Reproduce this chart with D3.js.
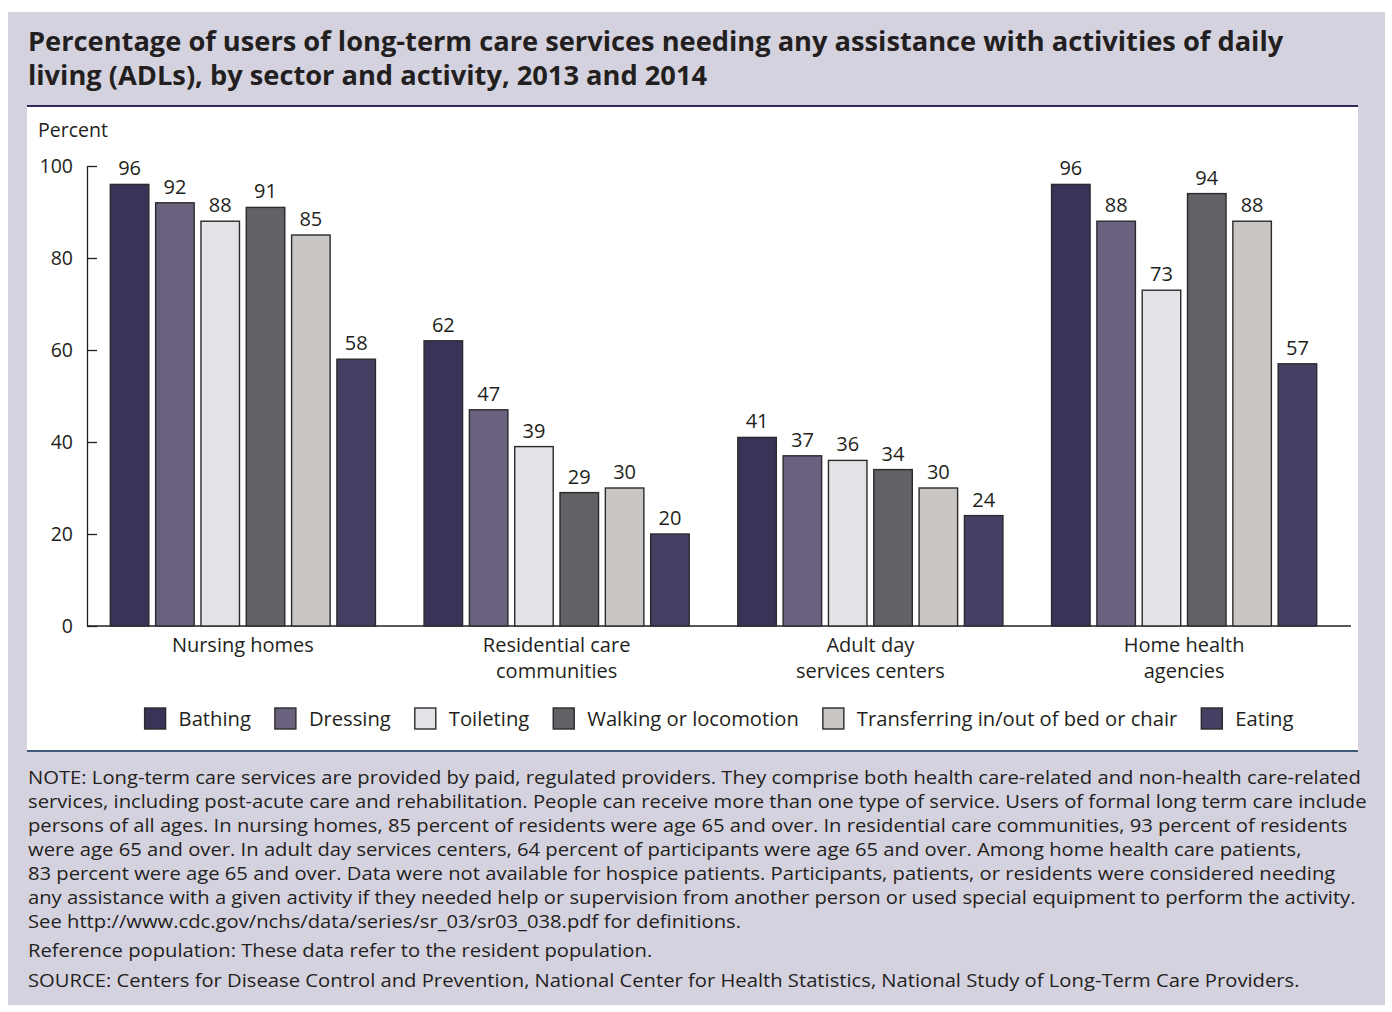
<!DOCTYPE html>
<html><head><meta charset="utf-8">
<script src="https://cdn.jsdelivr.net/npm/d3@7"></script>
<style>
html,body{margin:0;padding:0;background:#fff;}
svg text{font-family:"Open Sans","Noto Sans",sans-serif;fill:#231f20;}
</style></head>
<body>
<svg id="chart" width="1392" height="1012"></svg>
<script>
const titleLines = [
  "Percentage of users of long-term care services needing any assistance with activities of daily",
  "living (ADLs), by sector and activity, 2013 and 2014"
];
const sectors = [["Nursing homes"], ["Residential care", "communities"], ["Adult day", "services centers"], ["Home health", "agencies"]];
const sectorKeys = ["Nursing homes", "Residential care communities", "Adult day services centers", "Home health agencies"];
const activities = ["Bathing", "Dressing", "Toileting", "Walking or locomotion", "Transferring in/out of bed or chair", "Eating"];
const colors = ["#383357", "#6a617f", "#e2e3e7", "#616266", "#c9c6c3", "#463f63"];
const bathing      = [96, 62, 41, 96];
const dressing     = [92, 47, 37, 88];
const toileting    = [88, 39, 36, 73];
const walking      = [91, 29, 34, 94];
const transferring = [85, 30, 30, 88];
const eating       = [58, 20, 24, 57];
const yTicks = [0, 20, 40, 60, 80, 100];
const yLabel = "Percent";
const noteLines = [
  "NOTE: Long-term care services are provided by paid, regulated providers. They comprise both health care-related and non-health care-related",
  "services, including post-acute care and rehabilitation. People can receive more than one type of service. Users of formal long term care include",
  "persons of all ages. In nursing homes, 85 percent of residents were age 65 and over. In residential care communities, 93 percent of residents",
  "were age 65 and over. In adult day services centers, 64 percent of participants were age 65 and over. Among home health care patients,",
  "83 percent were age 65 and over. Data were not available for hospice patients. Participants, patients, or residents were considered needing",
  "any assistance with a given activity if they needed help or supervision from another person or used special equipment to perform the activity.",
  "See http://www.cdc.gov/nchs/data/series/sr_03/sr03_038.pdf for definitions."
];
const refLine = "Reference population: These data refer to the resident population.";
const sourceLine = "SOURCE: Centers for Disease Control and Prevention, National Center for Health Statistics, National Study of Long-Term Care Providers.";

const seriesValues = [bathing, dressing, toileting, walking, transferring, eating];
const data = sectorKeys.map((s, i) => ({
  sector: s, idx: i,
  values: activities.map((a, j) => ({activity: a, value: seriesValues[j][i], color: colors[j]}))
}));

const svg = d3.select("#chart");

// backgrounds
svg.append("rect").attr("x", 8).attr("y", 12).attr("width", 1377).attr("height", 993).attr("fill", "#d5d2df");
svg.append("rect").attr("x", 27).attr("y", 106).attr("width", 1331).attr("height", 645).attr("fill", "#ffffff");
svg.append("line").attr("x1", 27).attr("x2", 1358).attr("y1", 106).attr("y2", 106).attr("stroke", "#2e2a5a").attr("stroke-width", 2);
svg.append("line").attr("x1", 27).attr("x2", 1358).attr("y1", 751).attr("y2", 751).attr("stroke", "#3d5878").attr("stroke-width", 2);

// title
const title = svg.append("g").attr("transform", "translate(28,0)");
title.selectAll("text").data(titleLines).join("text")
  .attr("x", 0).attr("y", (d, i) => 51 + i * 34)
  .attr("font-size", 27).attr("font-weight", 700).text(d => d);
{
  const w = title.select("text").node().getComputedTextLength();
  const k = 1256 / w;
  title.attr("transform", `translate(28,0) scale(${k},1)`);
}

// scales
const y = d3.scaleLinear().domain([0, 100]).range([626, 166]);
const x0 = d3.scaleBand().domain(sectorKeys).range([86, 1341]).paddingInner(0.155).paddingOuter(0.0775);
const x1 = d3.scaleBand().domain(activities).range([0, x0.bandwidth()]).paddingInner(0.15).paddingOuter(0);

// y axis
const yAxis = d3.axisLeft(y).tickValues(yTicks).tickSize(-10).tickSizeOuter(0).tickPadding(14);
const gy = svg.append("g").attr("transform", "translate(87,0)").call(yAxis);
gy.select(".domain").attr("stroke", "#231f20").attr("stroke-width", 1.3);
gy.selectAll(".tick line").attr("stroke", "#231f20").attr("stroke-width", 1.3);
gy.selectAll(".tick text").attr("font-size", 19.5).attr("font-family", null).attr("fill", "#231f20");

svg.append("text").attr("x", 38).attr("y", 137).attr("font-size", 19.5).text(yLabel);

// x axis line
const gx = svg.append("g").attr("transform", "translate(0,626)")
  .call(d3.axisBottom(x0).tickSize(0).tickFormat(""));
gx.select(".domain").attr("d", "M87,0H1351").attr("stroke", "#231f20").attr("stroke-width", 1.3);

// bars
const groups = svg.append("g").selectAll("g").data(data).join("g")
  .attr("transform", d => `translate(${x0(d.sector)},0)`);
groups.selectAll("rect").data(d => d.values).join("rect")
  .attr("x", d => x1(d.activity)).attr("width", x1.bandwidth())
  .attr("y", d => y(d.value)).attr("height", d => y(0) - y(d.value))
  .attr("fill", d => d.color).attr("stroke", "#2b2b2e").attr("stroke-width", 1.4);
groups.selectAll("text.val").data(d => d.values).join("text").attr("class", "val")
  .attr("x", d => x1(d.activity) + x1.bandwidth() / 2).attr("y", d => y(d.value) - 9)
  .attr("text-anchor", "middle").attr("font-size", 20).text(d => d.value);

// category labels
svg.append("g").selectAll("text").data(data).join("text")
  .attr("text-anchor", "middle").attr("font-size", 20)
  .attr("x", d => x0(d.sector) + x0.bandwidth() / 2)
  .selectAll("tspan").data(d => sectors[d.idx]).join("tspan")
  .attr("x", function() { return this.parentNode.getAttribute("x"); })
  .attr("y", (d, i) => 652 + i * 26).text(d => d);

// legend
const legend = svg.append("g");
const items = legend.selectAll("g").data(activities).join("g");
items.append("rect").attr("x", 0).attr("y", 708).attr("width", 21).attr("height", 21)
  .attr("fill", (d, i) => colors[i]).attr("stroke", "#2b2b2e").attr("stroke-width", 1.4);
items.append("text").attr("x", 34).attr("y", 726).attr("font-size", 20.2).text(d => d);
{
  let xpos = 0; const pos = []; const gap = 24;
  items.each(function() {
    pos.push(xpos);
    xpos += 34 + d3.select(this).select("text").node().getComputedTextLength() + gap;
  });
  const total = xpos - gap;
  const start = (87 + 1351) / 2 - total / 2;
  items.attr("transform", (d, i) => `translate(${start + pos[i]},0)`);
}

// notes
const notes = svg.append("g").attr("transform", "translate(28,0)");
notes.selectAll("text.n").data(noteLines).join("text").attr("class", "n")
  .attr("x", 0).attr("y", (d, i) => 784 + i * 24).attr("font-size", 19).text(d => d);
notes.append("text").attr("x", 0).attr("y", 957).attr("font-size", 19).text(refLine);
notes.append("text").attr("x", 0).attr("y", 987).attr("font-size", 19).text(sourceLine);
{
  const w = notes.select("text.n").node().getComputedTextLength();
  const k = 1333 / w;
  notes.attr("transform", `translate(28,0) scale(${k},1)`);
}
</script>
</body></html>
